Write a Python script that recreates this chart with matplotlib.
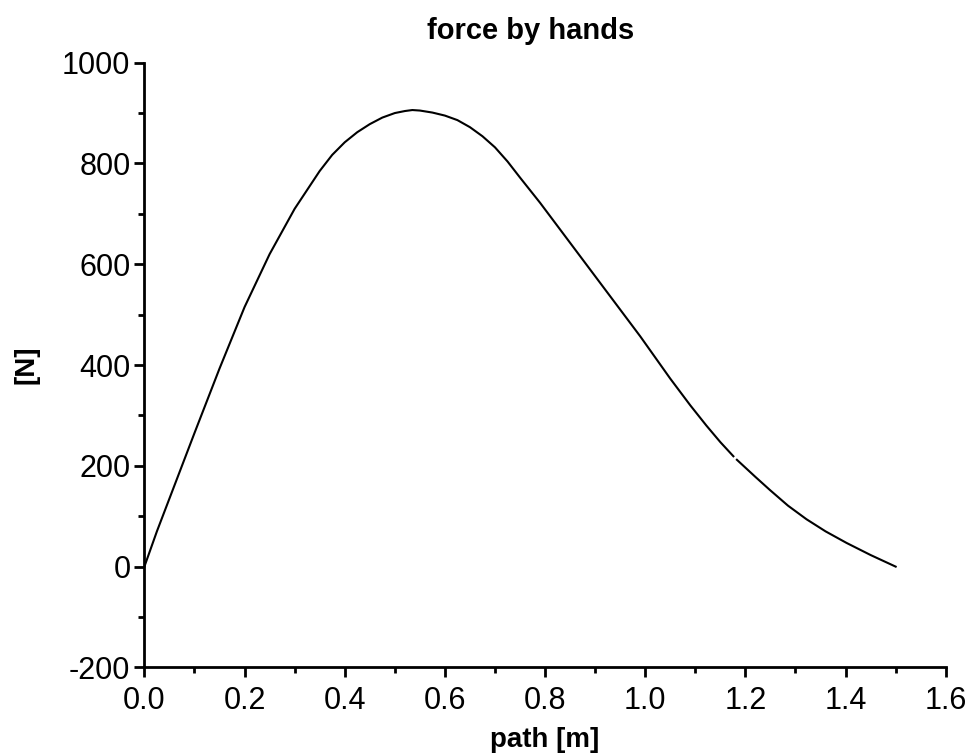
import matplotlib
matplotlib.use("Agg")
import matplotlib as mpl
import numpy as np
from matplotlib import pyplot as plt
from matplotlib.ticker import MultipleLocator

# curve, drawn in two pieces (small break near 1.18 m)
path_a = [0.000, 0.025, 0.050, 0.100, 0.150, 0.200, 0.250, 0.300, 0.350, 0.375,
          0.400, 0.425, 0.450, 0.475, 0.500, 0.520, 0.535, 0.550, 0.575, 0.600,
          0.625, 0.650, 0.675, 0.700, 0.725, 0.750, 0.790, 0.830, 0.870, 0.910,
          0.950, 0.990, 1.050, 1.090, 1.122, 1.150, 1.176]
force_a = [0, 70, 135, 265, 393, 515, 620, 710, 785, 817,
           842, 862, 878, 891, 900, 904, 906, 905, 901, 895,
           886, 872, 854, 832, 804, 772, 722, 669, 616, 563,
           510, 457, 373, 320, 280, 247, 219]
path_b = [1.183, 1.220, 1.249, 1.285, 1.322, 1.360, 1.402, 1.450, 1.500]
force_b = [212, 178, 152, 121, 94, 70, 47, 23, 0]

mpl.rcParams['font.family'] = ['Liberation Sans', 'DejaVu Sans']
mpl.rcParams['font.size'] = 22

fig = plt.figure(figsize=(9.69, 7.55), dpi=100)
ax = fig.add_axes([0.149, 0.116, 0.827, 0.801])

ax.plot(path_a, force_a, color="black", linewidth=1.5)
ax.plot(path_b, force_b, color="black", linewidth=1.5)

ax.set_xlim(0.0, 1.6)
ax.set_ylim(-200, 1000)
ax.xaxis.set_major_locator(MultipleLocator(0.2))
ax.xaxis.set_minor_locator(MultipleLocator(0.1))
ax.yaxis.set_major_locator(MultipleLocator(200))
ax.yaxis.set_minor_locator(MultipleLocator(100))
ax.xaxis.set_major_formatter(plt.FuncFormatter(lambda v, p: f"{v:.1f}"))
ax.yaxis.set_major_formatter(plt.FuncFormatter(lambda v, p: f"{v:.0f}"))

for side in ("top", "right"):
    ax.spines[side].set_visible(False)
for side in ("left", "bottom"):
    ax.spines[side].set_linewidth(2)

ax.tick_params(which="major", direction="out", length=7, width=2, pad=3)
ax.tick_params(axis="x", which="major", pad=6.5)
ax.tick_params(which="minor", direction="out", length=4, width=2)

ax.set_title("force by hands", fontsize=21, fontweight="bold", pad=17, x=0.482)
ax.set_xlabel("path [m]", fontsize=20, fontweight="bold", labelpad=7.5)
ax.set_ylabel("[N]", fontsize=20, fontweight="bold", labelpad=16)

fig.savefig("out.png", dpi=100)
